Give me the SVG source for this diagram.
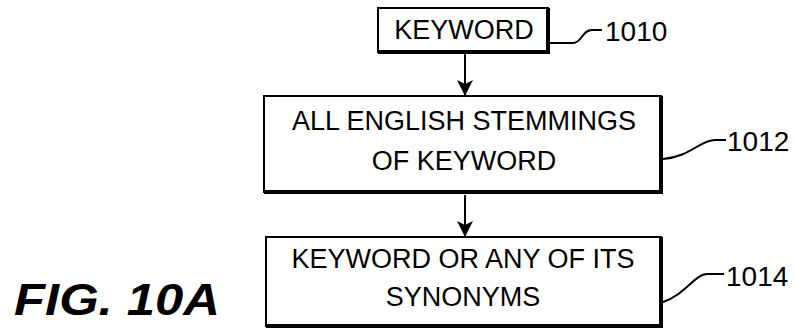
<svg xmlns="http://www.w3.org/2000/svg" width="795" height="336" viewBox="0 0 795 336">
<defs>
<style>
.box{fill:#fff;stroke:#000;stroke-width:2}
.sh{fill:none;stroke:#000;stroke-width:4}
.t{font-family:"Liberation Sans",Arial,sans-serif;font-size:27px;fill:#000;text-anchor:middle}
.ref{font-family:"Liberation Sans",Arial,sans-serif;font-size:28px;fill:#000}
.ld{fill:none;stroke:#000;stroke-width:2}
.c{stroke:#000;stroke-width:2;fill:none}
</style>
<marker id="ah" viewBox="0 0 16 16" refX="15" refY="8" markerWidth="16" markerHeight="16" orient="auto" markerUnits="userSpaceOnUse">
<path d="M0,0 L16,8 L0,16 L4,8 Z" fill="#000"/>
</marker>
</defs>
<g id="connectors">
<line class="c" x1="465" y1="54" x2="465" y2="95" marker-end="url(#ah)"/>
<line class="c" x1="465" y1="195" x2="465" y2="236" marker-end="url(#ah)"/>
</g>
<g id="node-1010">
<rect class="box" x="378" y="8" width="170" height="44"/>
<polyline class="sh" points="548,8 548,52 378,52"/>
<text class="t" x="464" y="39">KEYWORD</text>
<path class="ld" d="M550,43 L573,43 C582,43 582,30 592,30 L602,30"/>
<text class="ref" x="605" y="41">1010</text>
</g>
<g id="node-1012">
<rect class="box" x="264" y="96" width="397" height="96"/>
<polyline class="sh" points="661,96 661,192 264,192"/>
<text class="t" x="464" y="130">ALL ENGLISH STEMMINGS</text>
<text class="t" x="464" y="170">OF KEYWORD</text>
<path class="ld" d="M663,159 C690,157 700,140 715,140 L726,140"/>
<text class="ref" x="727" y="151">1012</text>
</g>
<g id="node-1014">
<rect class="box" x="266" y="237" width="395" height="89"/>
<polyline class="sh" points="661,237 661,326 266,326"/>
<text class="t" x="463" y="268">KEYWORD OR ANY OF ITS</text>
<text class="t" x="463" y="306">SYNONYMS</text>
<path class="ld" d="M663,302 C685,295 695,274 707,274 L724,274"/>
<text class="ref" x="726" y="286">1014</text>
</g>
<g id="caption">
<text x="14" y="315" font-family="Liberation Sans,Arial,sans-serif" font-size="44" font-weight="bold" font-style="italic" fill="#000" textLength="206" lengthAdjust="spacingAndGlyphs">FIG. 10A</text>
</g>
</svg>
